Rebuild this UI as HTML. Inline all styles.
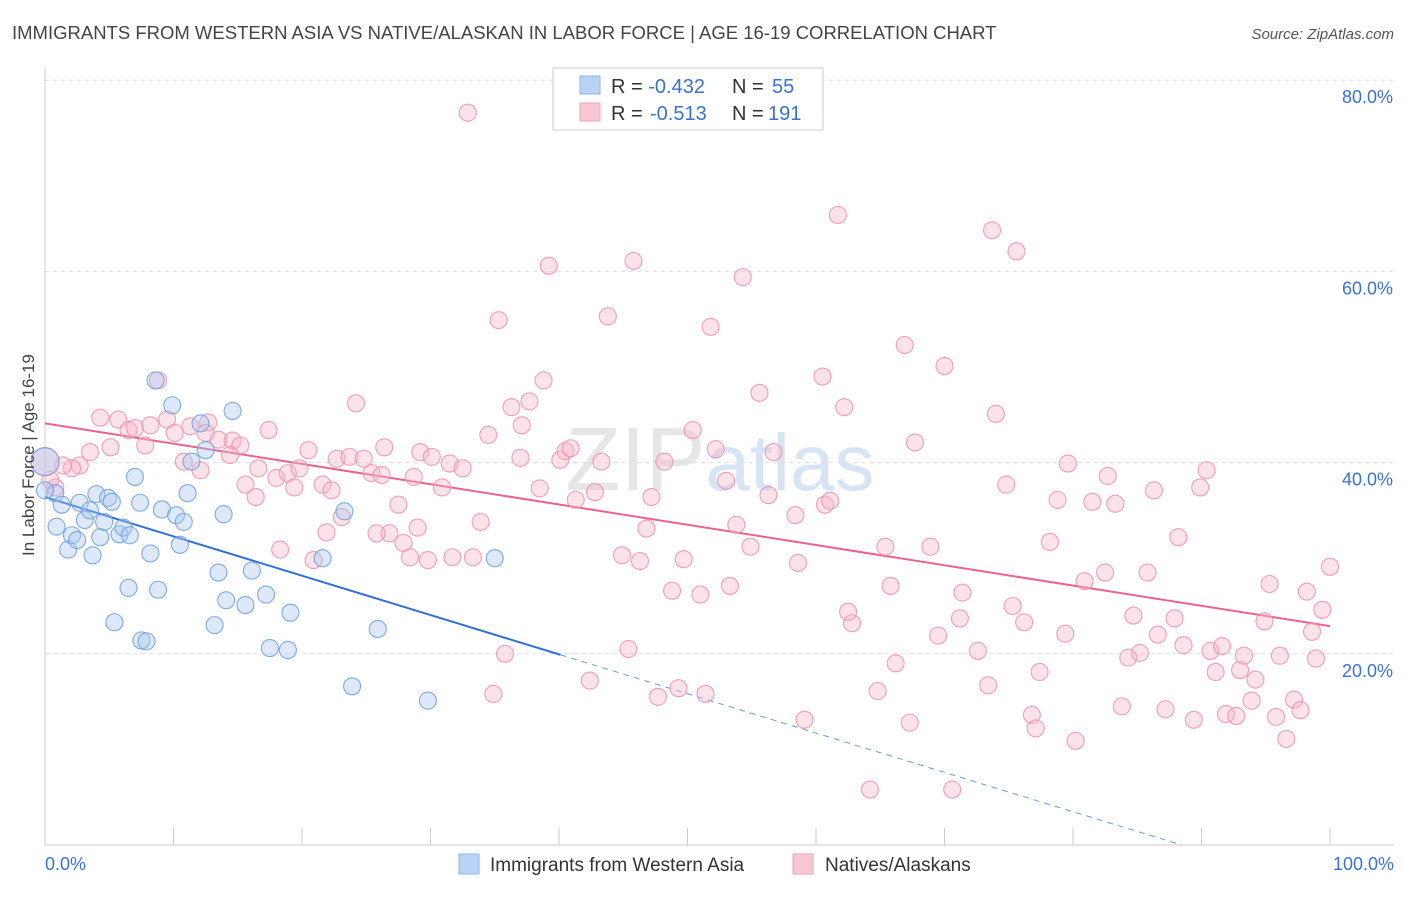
<!DOCTYPE html>
<html><head><meta charset="utf-8"><style>
body{margin:0;background:#fff;font-family:"Liberation Sans",sans-serif;}
svg text{font-family:"Liberation Sans",sans-serif;}
</style></head><body>
<svg id="chart" width="1406" height="892" xmlns="http://www.w3.org/2000/svg">
<text x="12" y="39" font-size="18.5" fill="#444">IMMIGRANTS FROM WESTERN ASIA VS NATIVE/ALASKAN IN LABOR FORCE | AGE 16-19 CORRELATION CHART</text>
<text x="1394" y="39" font-size="15" fill="#555" text-anchor="end" font-style="italic">Source: ZipAtlas.com</text>
<text x="720" y="490" font-size="90" fill="#e6e6e6" text-anchor="middle" font-family="Liberation Serif">ZIP<tspan fill="#d6e4f5" font-family="Liberation Sans" font-size="80">atlas</tspan></text>
<g id="grid"></g><g id="axes"></g><g id="lines"></g><g id="pts"></g>
<text transform="translate(34,455) rotate(-90)" font-size="17" fill="#444" text-anchor="middle">In Labor Force | Age 16-19</text>
<g>
<rect x="553" y="68" width="270" height="62" fill="#fff" stroke="#ccc"/>
<rect x="580" y="76" width="20" height="18" fill="#b9d3f5" stroke="#8fb4e6"/>
<rect x="580" y="103" width="20" height="18" fill="#f9c6d4" stroke="#f0a3bb"/>
<text x="611" y="93" font-size="20" fill="#333">R = <tspan fill="#3a72d0">-0.432</tspan><tspan x="732">N = </tspan><tspan fill="#3a72d0" x="772">55</tspan></text>
<text x="611" y="120" font-size="20" fill="#333">R = <tspan fill="#3a72d0" x="650">-0.513</tspan><tspan x="732">N = </tspan><tspan fill="#3a72d0" x="768">191</tspan></text>
</g>
<g>
<rect x="459" y="854" width="20" height="20" fill="#b9d3f5" stroke="#8fb4e6"/>
<text x="490" y="871" font-size="19" fill="#333">Immigrants from Western Asia</text>
<rect x="793" y="854" width="20" height="20" fill="#f9c6d4" stroke="#f0a3bb"/>
<text x="825" y="871" font-size="19" fill="#333">Natives/Alaskans</text>
</g>
<text x="45" y="870" font-size="18" fill="#3a72d0">0.0%</text>
<text x="1394" y="870" font-size="18" fill="#3a72d0" text-anchor="end">100.0%</text>
</svg>
<script>
const yTicks=[20,40,60,80];
const yTickLabels=["20.0%","40.0%","60.0%","80.0%"];
const xTicks=[0,10,20,30,40,50,60,70,80,90,100];
const blueX=[0,0.8,0.9,1.3,1.8,2.1,2.5,2.7,3.1,3.5,3.7,4.0,4.3,4.6,4.9,5.2,5.4,5.8,6.1,6.5,6.6,7.0,7.4,7.5,7.9,8.2,8.6,8.8,9.1,9.9,10.2,10.5,10.8,11.1,11.4,12.1,12.5,13.2,13.5,13.9,14.1,14.6,15.6,16.1,17.2,17.5,18.9,19.1,21.6,23.3,23.9,25.9,29.8,35.0,0];
const blueY=[40.1,36.8,33.3,35.6,30.9,32.4,31.9,35.8,34.0,35.0,30.3,36.7,32.2,33.8,36.3,35.9,23.3,32.5,33.2,26.9,32.4,38.5,35.8,21.4,21.3,30.5,48.6,26.7,35.1,46.0,34.5,31.4,33.8,36.8,40.1,44.1,41.3,23.0,28.5,34.6,25.6,45.4,25.1,28.7,26.2,20.6,20.4,24.3,30.0,34.9,16.6,22.6,15.1,30.0,37.1];
const pinkX=[32.9,61.7,73.7,75.6,39.2,45.8,54.3,35.3,43.8,51.8,66.9,70.0,60.5,38.8,8.8,55.6,24.2,62.2,36.3,37.7,74.0,4.3,5.7,6.5,7.0,8.2,9.5,10.1,11.3,12.7,13.5,14.6,15.2,17.4,7.8,5.1,3.5,2.7,2.1,1.4,0.8,0.4,12.5,14.4,10.8,12.1,15.6,16.6,16.4,18.0,18.9,19.4,19.8,20.5,21.6,22.3,22.7,23.7,24.8,25.4,26.2,26.4,27.5,28.7,29.2,30.1,30.9,31.5,32.5,34.5,37.1,37.0,40.1,40.5,40.9,43.3,41.3,42.8,38.5,33.9,29.0,26.8,25.8,27.9,23.1,21.9,18.3,20.9,28.4,29.8,31.7,33.3,35.8,34.9,42.4,45.4,44.9,46.3,46.8,47.2,48.2,48.8,49.7,50.4,51.0,51.4,49.3,47.7,52.2,53.0,53.8,54.9,53.3,56.3,56.7,58.4,58.6,59.1,60.7,61.1,62.8,62.5,64.2,64.8,65.4,65.8,66.2,67.3,67.7,68.9,69.5,70.6,71.2,71.4,72.6,73.4,74.8,75.3,76.2,76.8,77.1,77.4,78.2,78.8,79.4,79.6,80.2,80.9,81.5,82.5,82.7,83.3,83.8,84.3,84.7,85.2,85.8,86.3,86.6,87.2,87.9,88.2,88.6,89.4,89.9,90.4,90.7,91.1,91.6,91.9,92.7,93.0,93.3,93.9,94.2,94.9,95.3,95.8,96.1,96.6,97.2,97.7,98.2,98.6,99.4,98.9,100,0];
const pinkY=[76.6,65.9,64.3,62.1,60.6,61.1,59.4,54.9,55.3,54.2,52.3,50.1,49.0,48.6,48.6,47.3,46.2,45.8,45.8,46.4,45.1,44.7,44.5,43.4,43.6,43.9,44.5,43.1,43.8,44.2,42.4,42.3,41.8,43.4,41.8,41.6,41.1,39.7,39.4,39.7,37.4,38.2,43.1,40.8,40.1,39.2,37.7,39.4,36.4,38.4,38.9,37.4,39.4,41.3,37.7,37.1,40.4,40.6,40.4,38.9,38.7,41.6,35.6,38.5,41.1,40.6,37.4,39.9,39.4,42.9,43.9,40.5,40.3,41.2,41.5,40.1,36.1,36.9,37.3,33.8,33.2,32.6,32.6,31.6,34.3,32.7,30.9,29.8,30.1,29.8,30.1,30.1,20.0,15.8,17.2,20.5,30.3,29.7,33.1,36.4,40.1,26.6,29.9,43.4,26.2,15.8,16.4,15.5,41.4,38.1,33.5,31.2,27.1,36.6,41.1,34.5,29.5,13.1,35.6,36.0,23.2,24.4,5.8,16.1,31.2,27.1,19.0,12.8,42.1,31.2,21.9,5.8,23.7,26.4,20.3,16.7,37.7,25.0,23.3,13.6,12.2,18.1,31.7,36.1,22.1,39.9,10.9,27.6,35.9,28.5,38.6,35.7,14.5,19.6,24.0,20.1,28.5,37.1,22.0,14.2,23.7,32.2,20.9,13.1,37.4,39.2,20.3,18.1,20.8,13.7,13.5,18.3,19.8,15.1,17.3,23.4,27.3,13.4,19.8,11.1,15.2,14.1,26.5,22.3,24.6,19.5,29.1,40.1];
const blueTrend=[36.4,-0.4115];   // intercept, slope
const blueSolidEnd=40.1;
const pinkTrend=[44.1,-0.212];

const NS="http://www.w3.org/2000/svg";
const X0=45,X1=1330,Y0=845,YS=9.56;
const sx=v=>X0+(X1-X0)*v/100;
const sy=v=>Y0-YS*v;
function mk(tag,at,parent){const e=document.createElementNS(NS,tag);for(const k in at)e.setAttribute(k,at[k]);document.getElementById(parent).appendChild(e);return e;}
yTicks.forEach((t,i)=>{
  const l=mk('line',{x1:45,x2:1394,y1:sy(t),y2:sy(t),stroke:'#ddd','stroke-dasharray':'4,4'},'grid');
  
  
  const tx=mk('text',{x:1393,y:sy(t)+23,'font-size':18,fill:'#3a72d0','text-anchor':'end'},'axes');
  tx.textContent=yTickLabels[i];
  
  
});
const ax=mk('line',{x1:45,x2:45,y1:68,y2:845,stroke:'#ccc'},'axes');


const bx=mk('line',{x1:45,x2:1394,y1:845,y2:845,stroke:'#ccc'},'axes');


xTicks.forEach(t=>{
  const l=mk('line',{x1:sx(t),x2:sx(t),y1:828,y2:845,stroke:'#ccc'},'axes');
  
  
});
function drawPts(xs,ys,fill,stroke,name){
  xs.forEach((x,i)=>{
    const big=(x===0&&ys[i]===40.1);
    const c=mk('circle',{cx:sx(x),cy:sy(ys[i]),r:big?14:8.5,fill:fill,'fill-opacity':0.4,stroke:stroke,'stroke-width':1.1,'stroke-opacity':0.85},'pts');
    
    
  });
}
drawPts(pinkX,pinkY,'#f7b6c9','#ee8fae','pink-point');
drawPts(blueX,blueY,'#a9c8f0','#6a9ee0','blue-point');
const bEnd=-blueTrend[0]/blueTrend[1];
const b1=mk('line',{x1:sx(0),y1:sy(blueTrend[0]),x2:sx(blueSolidEnd),y2:sy(blueTrend[0]+blueTrend[1]*blueSolidEnd),stroke:'#2f6fd6','stroke-width':2},'lines');


const b2=mk('line',{x1:sx(blueSolidEnd),y1:sy(blueTrend[0]+blueTrend[1]*blueSolidEnd),x2:sx(bEnd),y2:sy(0),stroke:'#6a9ee0','stroke-width':1,'stroke-dasharray':'6,5'},'lines');


const p1=mk('line',{x1:sx(0),y1:sy(pinkTrend[0]),x2:sx(100),y2:sy(pinkTrend[0]+pinkTrend[1]*100),stroke:'#e8648f','stroke-width':2},'lines');


</script>
</body></html>
